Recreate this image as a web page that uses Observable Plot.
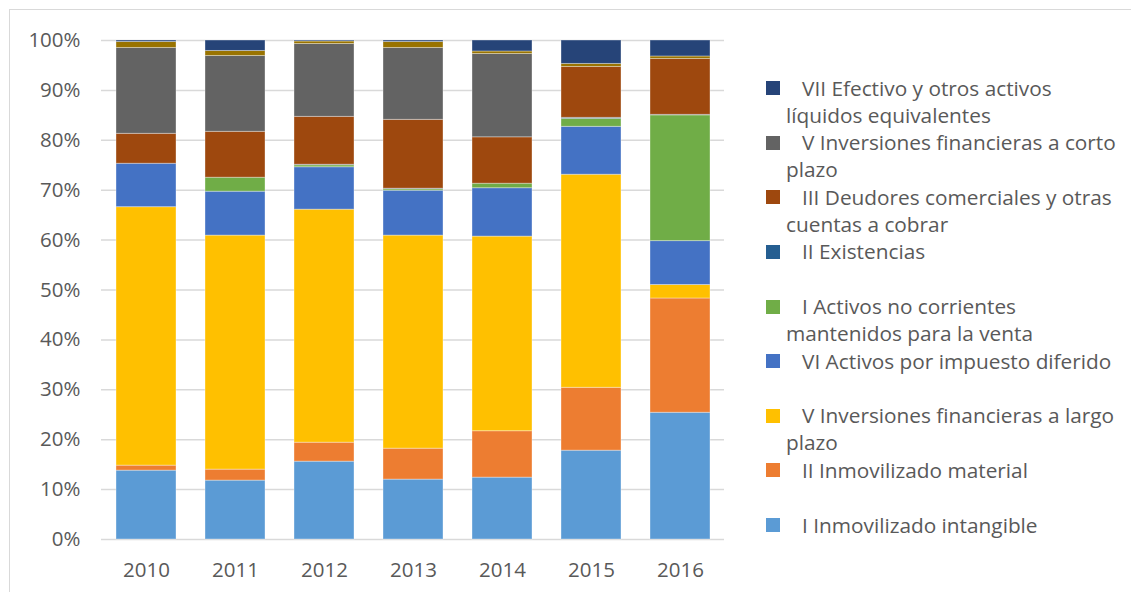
<!DOCTYPE html>
<html>
<head>
<meta charset="utf-8">
<script src="https://cdn.jsdelivr.net/npm/d3@7"></script>
<script src="https://cdn.jsdelivr.net/npm/@observablehq/plot@0.6"></script>
<style>
  html, body { margin: 0; padding: 0; background: #fff; overflow: hidden; }
  #wrap { position: relative; width: 1131px; height: 592px; overflow: hidden; font-family: "Open Sans", sans-serif; color: #595959; }
  #frame { position: absolute; left: 9px; top: 9px; width: 1300px; height: 800px; border: 1px solid #d9d9d9; box-sizing: border-box; }
  #chart { position: absolute; left: 0; top: 0; }
  .lg-item { position: absolute; left: 766px; }
  .lg-sw { position: absolute; left: 0; width: 14px; height: 14px; }
  .lg-tx { position: absolute; left: 20px; white-space: nowrap; font-size: 20.8px; line-height: 27px; }
</style>
</head>
<body>
<div id="wrap">
  <div id="frame"></div>
  <div id="chart"></div>
  <div id="legend"></div>
</div>
<script>
const years = ["2010", "2011", "2012", "2013", "2014", "2015", "2016"];

// Series in stacking order (bottom to top)
const seriesNames = [
  "I Inmovilizado intangible",
  "II Inmovilizado material",
  "V Inversiones financieras a largo plazo",
  "VI Activos por impuesto diferido",
  "I Activos no corrientes mantenidos para la venta",
  "II Existencias",
  "III Deudores comerciales y otras cuentas a cobrar",
  "V Inversiones financieras a corto plazo",
  "VI Periodificaciones a corto plazo",
  "VII Efectivo y otros activos líquidos equivalentes"
];
const seriesColors = [
  "#5B9BD5", "#ED7D31", "#FFC000", "#4472C4", "#70AD47",
  "#255E91", "#9E480E", "#636363", "#997300", "#264478"
];

// Percent values per series, per year (2010..2016)
const intangible   = [13.8, 11.8, 15.6, 12.0, 12.4, 17.8, 25.4];
const material     = [ 1.0,  2.2,  3.8,  6.2,  9.3, 12.6, 22.9];
const invLargo     = [51.8, 46.9, 46.7, 42.7, 39.0, 42.7,  2.7];
const impDiferido  = [ 8.7,  8.8,  8.5,  9.0,  9.7,  9.6,  8.8];
const noCorrientes = [ 0.0,  2.8,  0.4,  0.3,  0.9,  1.6, 25.2];
const existencias  = [ 0.0,  0.0,  0.1,  0.1,  0.0,  0.2,  0.1];
const deudores     = [ 6.0,  9.2,  9.6, 13.8,  9.3, 10.2, 11.2];
const invCorto     = [17.2, 15.2, 14.6, 14.4, 16.7,  0.0,  0.0];
const periodif     = [ 1.2,  1.0,  0.5,  1.2,  0.5,  0.6,  0.5];
const efectivo     = [ 0.3,  2.1,  0.2,  0.3,  2.2,  4.7,  3.2];

const seriesValues = [intangible, material, invLargo, impDiferido, noCorrientes,
  existencias, deudores, invCorto, periodif, efectivo];

const yTicks = [0, 0.1, 0.2, 0.3, 0.4, 0.5, 0.6, 0.7, 0.8, 0.9, 1];

// Legend (as shown in the reference, top to bottom)
const legendEntries = [
  {name: "VII Efectivo y otros activos líquidos equivalentes", lines: ["VII Efectivo y otros activos", "líquidos equivalentes"]},
  {name: "V Inversiones financieras a corto plazo", lines: ["V Inversiones financieras a corto", "plazo"]},
  {name: "III Deudores comerciales y otras cuentas a cobrar", lines: ["III Deudores comerciales y otras", "cuentas a cobrar"]},
  {name: "II Existencias", lines: ["II Existencias"]},
  {name: "I Activos no corrientes mantenidos para la venta", lines: ["I Activos no corrientes", "mantenidos para la venta"]},
  {name: "VI Activos por impuesto diferido", lines: ["VI Activos por impuesto diferido"]},
  {name: "V Inversiones financieras a largo plazo", lines: ["V Inversiones financieras a largo", "plazo"]},
  {name: "II Inmovilizado material", lines: ["II Inmovilizado material"]},
  {name: "I Inmovilizado intangible", lines: ["I Inmovilizado intangible"]}
];

const data = [];
seriesNames.forEach((s, i) => {
  years.forEach((y, j) => data.push({year: y, series: s, value: seriesValues[i][j]}));
});

const chart = Plot.plot({
  width: 730,
  height: 592,
  marginLeft: 101,
  marginRight: 6,
  marginTop: 40,
  marginBottom: 53,
  style: {fontFamily: "Open Sans, sans-serif", fontSize: "20.5px", color: "#595959", background: "transparent"},
  x: {domain: years, paddingInner: 0.33, paddingOuter: 0.165, label: null},
  y: {domain: [0, 1], label: null},
  color: {domain: seriesNames, range: seriesColors},
  marks: [
    Plot.ruleY(yTicks, {stroke: "#d9d9d9", strokeWidth: 1.5}),
    Plot.barY(data, Plot.stackY({offset: "normalize", order: seriesNames}, {
      x: "year", y: "value", fill: "series", z: "series",
      stroke: "#ffffff", strokeOpacity: 0.35, strokeWidth: 1
    })),
    Plot.axisY({ticks: yTicks, tickFormat: d3.format(".0%"), tickSize: 0, tickPadding: 21, label: null, fill: "#595959", fontSize: 20.5}),
    Plot.axisX({tickSize: 0, tickPadding: 23, label: null, fill: "#595959", fontSize: 20.5})
  ]
});
document.getElementById("chart").appendChild(chart);

const colorOf = Object.fromEntries(seriesNames.map((s, i) => [s, seriesColors[i]]));
const lg = document.getElementById("legend");
legendEntries.forEach((e, i) => {
  const cy = 88 + 54.63 * i;
  const item = document.createElement("div");
  item.className = "lg-item";
  item.style.top = (cy - 13.5) + "px";
  const sw = document.createElement("div");
  sw.className = "lg-sw";
  sw.style.top = "6.5px";
  sw.style.background = colorOf[e.name];
  item.appendChild(sw);
  const tx = document.createElement("div");
  tx.className = "lg-tx";
  e.lines.forEach((l, k) => {
    const span = document.createElement("div");
    span.textContent = l;
    if (k === 0) span.style.paddingLeft = "16px";
    tx.appendChild(span);
  });
  item.appendChild(tx);
  lg.appendChild(item);
});
</script>
</body>
</html>
